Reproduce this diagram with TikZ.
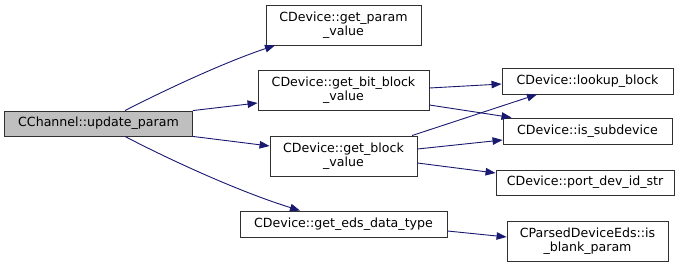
\documentclass[tikz,border=0pt]{standalone}
\usepackage{fontspec}
\setmainfont{DejaVu Sans}
\usetikzlibrary{arrows.meta}
\definecolor{edgeblue}{HTML}{191970}
\definecolor{rootfill}{HTML}{BFBFBF}
\definecolor{boxline}{HTML}{303030}
\tikzset{
  fn/.style={draw=boxline, line width=0.9pt, rectangle, inner sep=0pt, align=center,
    font=\fontsize{12.6}{13.6}\selectfont, text=black},
  call/.style={draw=edgeblue, line width=0.9pt,
    -{Triangle[length=10pt,width=7.5pt]}},
}
\begin{document}
\begin{tikzpicture}[x=1pt,y=-1pt]
\useasboundingbox (0,0) rectangle (685,267);
% caller
\node[fn, fill=rootfill, minimum width=188pt, minimum height=25pt] (upd) at (98.5,123.5) {CChannel::update\_param};
% direct callees
\node[fn, minimum width=155pt, minimum height=40pt] (gpv) at (343.5,25) {CDevice::get\_param\\\_value};
\node[fn, minimum width=171pt, minimum height=40pt] (gbb) at (343.5,90) {CDevice::get\_bit\_block\\\_value};
\node[fn, minimum width=147pt, minimum height=40pt] (gbv) at (343.5,156) {CDevice::get\_block\\\_value};
\node[fn, minimum width=207pt, minimum height=26pt] (eds) at (343.5,224) {CDevice::get\_eds\_data\_type};
% second level
\node[fn, minimum width=171pt, minimum height=26pt] (lkb) at (587.5,81) {CDevice::lookup\_block};
\node[fn, minimum width=169pt, minimum height=26pt] (isd) at (587.5,131) {CDevice::is\_subdevice};
\node[fn, minimum width=178pt, minimum height=25pt] (pdi) at (585,182.5) {CDevice::port\_dev\_id\_str};
\node[fn, minimum width=161pt, minimum height=40pt] (blk) at (587.5,241) {CParsedDeviceEds::is\\\_blank\_param};
% calls
\draw[call] ([xshift=26.5pt]upd.north) .. controls (165,90) and (225,62) .. ([xshift=-68.5pt]gpv.south);
\draw[call] (upd.north east) -- ([yshift=-13pt]gbb.west);
\draw[call] (upd.south east) -- ([yshift=10pt]gbv.west);
\draw[call] ([xshift=26.5pt]upd.south) .. controls (170,160) and (240,192) .. ([xshift=-43.5pt]eds.north);
\draw[call] ([yshift=2pt]gbb.east) -- ([yshift=-3pt]lkb.west);
\draw[call] ([yshift=-15pt]gbb.east) -- ([xshift=-76pt]isd.north);
\draw[call] ([xshift=68.5pt]gbv.north) -- ([xshift=-50.5pt]lkb.south);
\draw[call] ([yshift=7pt]gbv.east) -- ([yshift=-9pt]isd.west);
\draw[call] ([yshift=-7pt]gbv.east) -- ([yshift=9.5pt]pdi.west);
\draw[call] ([yshift=-7pt]eds.east) -- ([yshift=4pt]blk.west);
\end{tikzpicture}
\end{document}
